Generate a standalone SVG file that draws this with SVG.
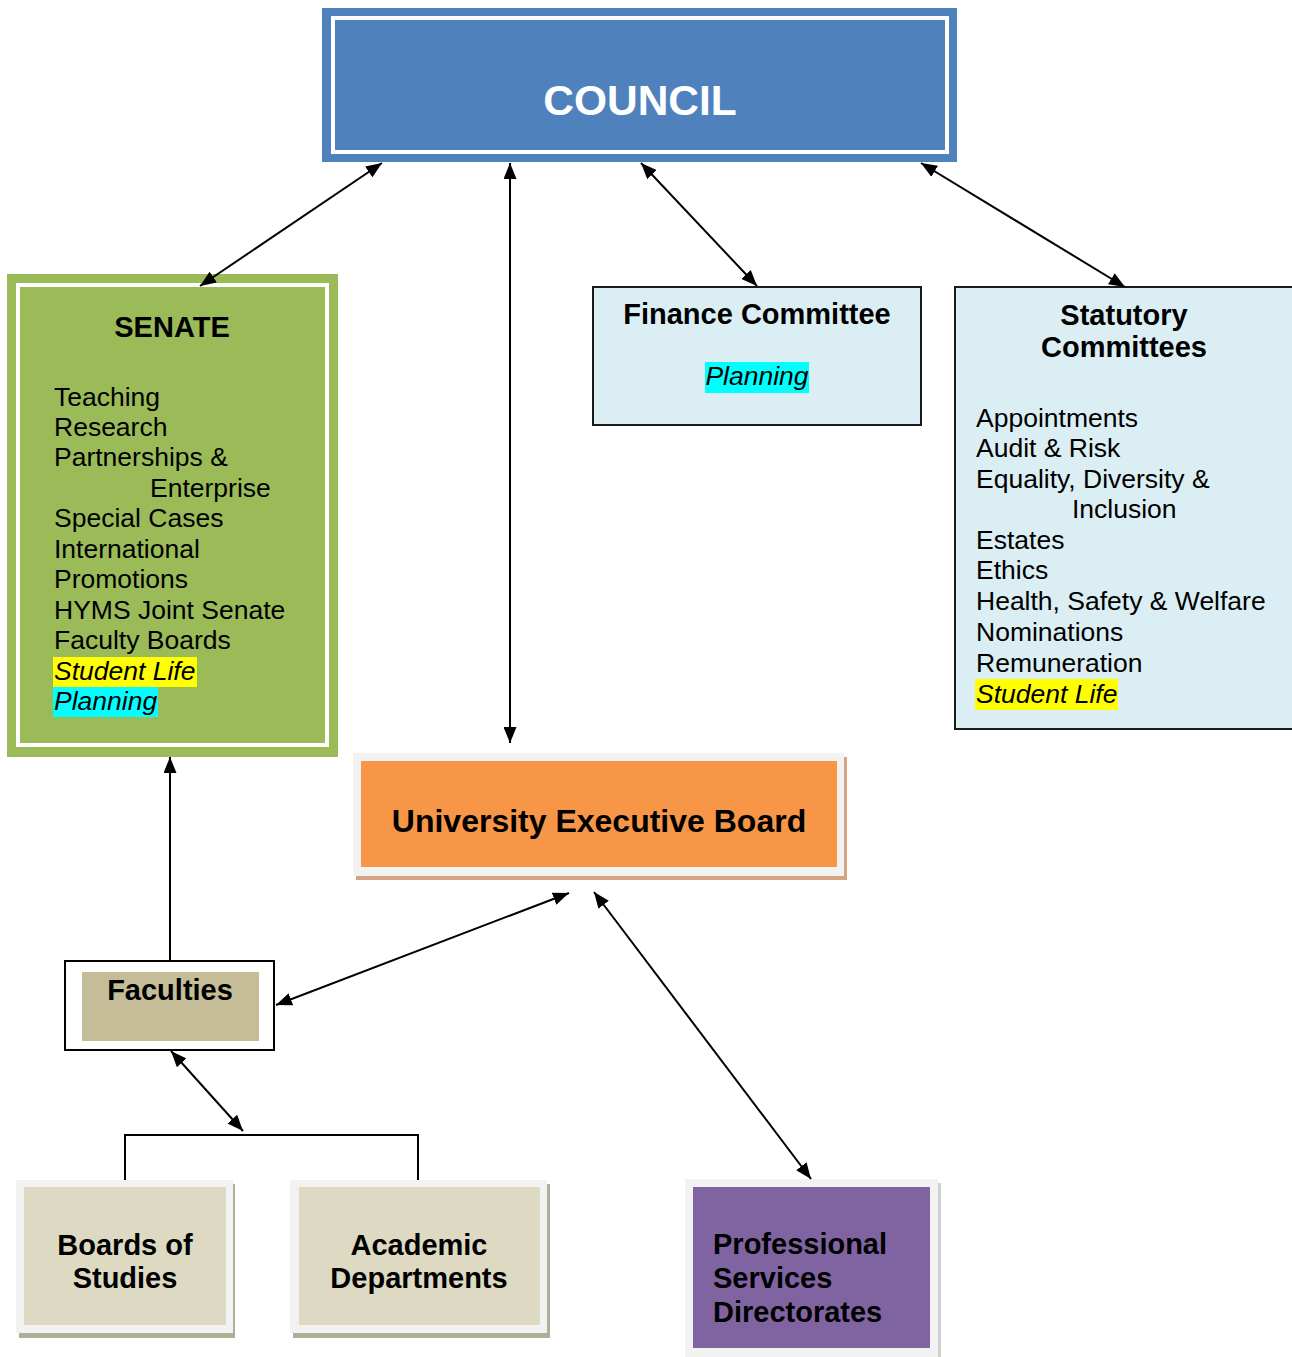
<svg xmlns="http://www.w3.org/2000/svg" width="1292" height="1357" viewBox="0 0 1292 1357">
<style>
text{font-family:"Liberation Sans",Arial,sans-serif;fill:#000}
.b{font-weight:bold}
.t{font-size:29px;font-weight:bold}
.r{font-size:26.5px}
.i{font-size:26.5px;font-style:italic}
.conn{stroke:#000;stroke-width:2;fill:none}
</style>
<defs>
<marker id="ah" markerUnits="userSpaceOnUse" markerWidth="17" markerHeight="13" refX="16" refY="6.5" orient="auto-start-reverse">
<path d="M0,0 L16,6.5 L0,13 z" fill="#000"/>
</marker>
</defs>
<rect width="1292" height="1357" fill="#fff"/>

<g id="council">
<rect x="322" y="8" width="635" height="154" fill="#4F81BD"/>
<rect x="333" y="18" width="614" height="134" fill="none" stroke="#fff" stroke-width="4"/>
<text x="640" y="115" text-anchor="middle" class="b" style="font-size:42.5px;fill:#fff">COUNCIL</text>
</g>

<g id="senate">
<rect x="7" y="274" width="331" height="483" fill="#9BBB59"/>
<rect x="18" y="285" width="309" height="460" fill="none" stroke="#fff" stroke-width="4"/>
<text x="172" y="337" text-anchor="middle" class="t">SENATE</text>
<rect x="53" y="657" width="144" height="30" fill="#FFFF00"/>
<rect x="53" y="687" width="105" height="30" fill="#00FFFF"/>
<text class="r" x="54" y="406">Teaching</text>
<text class="r" x="54" y="436">Research</text>
<text class="r" x="54" y="466">Partnerships &amp;</text>
<text class="r" x="150" y="497">Enterprise</text>
<text class="r" x="54" y="527">Special Cases</text>
<text class="r" x="54" y="558">International</text>
<text class="r" x="54" y="588">Promotions</text>
<text class="r" x="54" y="619">HYMS Joint Senate</text>
<text class="r" x="54" y="649">Faculty Boards</text>
<text class="i" x="54" y="680">Student Life</text>
<text class="i" x="54" y="710">Planning</text>
</g>

<g id="finance">
<rect x="593" y="287" width="328" height="138" fill="#DBEEF3" stroke="#1a1a1a" stroke-width="2"/>
<text x="757" y="324" text-anchor="middle" class="t">Finance Committee</text>
<rect x="705" y="362" width="104" height="31" fill="#00FFFF"/>
<text x="757" y="385" text-anchor="middle" class="i">Planning</text>
</g>

<g id="statutory">
<rect x="955" y="287" width="345" height="442" fill="#DBEEF3" stroke="#1a1a1a" stroke-width="2"/>
<text x="1124" y="325" text-anchor="middle" class="t">Statutory</text>
<text x="1124" y="357" text-anchor="middle" class="t">Committees</text>
<rect x="975" y="679" width="143" height="31" fill="#FFFF00"/>
<text class="r" x="976" y="427">Appointments</text>
<text class="r" x="976" y="457">Audit &amp; Risk</text>
<text class="r" x="976" y="488">Equality, Diversity &amp;</text>
<text class="r" x="1072" y="518">Inclusion</text>
<text class="r" x="976" y="549">Estates</text>
<text class="r" x="976" y="579">Ethics</text>
<text class="r" x="976" y="610">Health, Safety &amp; Welfare</text>
<text class="r" x="976" y="641">Nominations</text>
<text class="r" x="976" y="672">Remuneration</text>
<text class="i" x="976" y="703">Student Life</text>
</g>

<g id="ueb">
<rect x="356" y="757" width="491" height="123" fill="#D4A383"/>
<rect x="353" y="753" width="491" height="123" fill="#F2F2F2"/>
<rect x="361" y="761" width="476" height="106" fill="#F79646"/>
<text x="599" y="832" text-anchor="middle" class="b" style="font-size:32px">University Executive Board</text>
</g>

<g id="faculties">
<rect x="65" y="961" width="209" height="89" fill="#fff" stroke="#000" stroke-width="2"/>
<rect x="82" y="972" width="177" height="69" fill="#C4BD97"/>
<text x="170" y="1000" text-anchor="middle" class="t">Faculties</text>
</g>

<g id="boards">
<rect x="19" y="1184" width="216" height="154" fill="#A9B297"/>
<rect x="16" y="1180" width="217" height="153" fill="#F2F2F2"/>
<rect x="24" y="1187" width="202" height="138" fill="#DDD9C3"/>
<text x="125" y="1255" text-anchor="middle" class="t">Boards of</text>
<text x="125" y="1288" text-anchor="middle" class="t">Studies</text>
</g>

<g id="academic">
<rect x="293" y="1184" width="257" height="154" fill="#A9B297"/>
<rect x="290" y="1180" width="257" height="153" fill="#F2F2F2"/>
<rect x="299" y="1187" width="241" height="138" fill="#DDD9C3"/>
<text x="419" y="1255" text-anchor="middle" class="t">Academic</text>
<text x="419" y="1288" text-anchor="middle" class="t">Departments</text>
</g>

<g id="professional">
<rect x="688" y="1183" width="253" height="180" fill="#D0D0D0"/>
<rect x="685" y="1179" width="253" height="180" fill="#F2F2F2"/>
<rect x="693" y="1187" width="237" height="161" fill="#8064A2"/>
<text x="713" y="1254" class="t">Professional</text>
<text x="713" y="1288" class="t">Services</text>
<text x="713" y="1322" class="t">Directorates</text>
</g>

<g id="connectors">
<line class="conn" x1="382" y1="163" x2="200" y2="286" marker-start="url(#ah)" marker-end="url(#ah)"/>
<line class="conn" x1="510" y1="163" x2="510" y2="743" marker-start="url(#ah)" marker-end="url(#ah)"/>
<line class="conn" x1="641" y1="163" x2="757" y2="286" marker-start="url(#ah)" marker-end="url(#ah)"/>
<line class="conn" x1="921" y1="163" x2="1125" y2="287" marker-start="url(#ah)" marker-end="url(#ah)"/>
<line class="conn" x1="170" y1="961" x2="170" y2="757" marker-end="url(#ah)"/>
<line class="conn" x1="569" y1="893" x2="276" y2="1005" marker-start="url(#ah)" marker-end="url(#ah)"/>
<line class="conn" x1="594" y1="892" x2="811" y2="1179" marker-start="url(#ah)" marker-end="url(#ah)"/>
<line class="conn" x1="171" y1="1051" x2="243" y2="1131" marker-start="url(#ah)" marker-end="url(#ah)"/>
<polyline class="conn" points="125,1180 125,1135 418,1135 418,1180"/>
</g>
</svg>
